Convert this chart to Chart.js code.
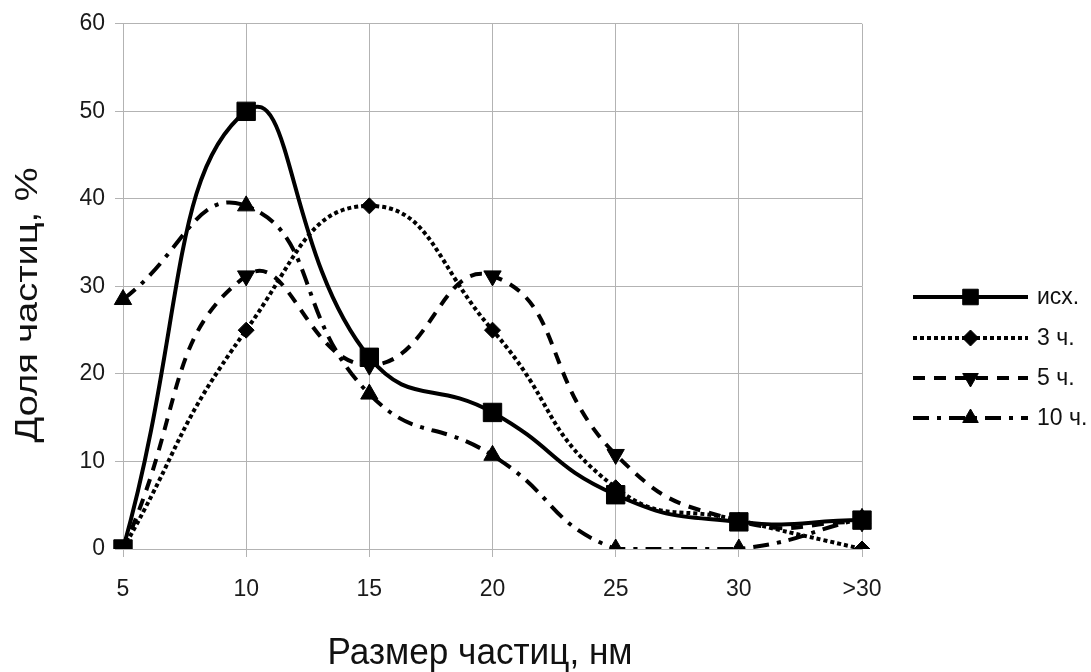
<!DOCTYPE html>
<html lang="ru">
<head>
  <meta charset="UTF-8">
  <title>Размер частиц</title>
  <script src="https://cdn.jsdelivr.net/npm/chart.js"></script>
  <style>
    html, body { margin: 0; padding: 0; background: #fff; }
    #wrap { width: 1091px; height: 672px; position: relative; }
  </style>
</head>
<body>
<div id="wrap"><canvas id="chart"></canvas></div>
<script>
  // категории и значения
  const sizes = ['5', '10', '15', '20', '25', '30', '>30'];
  const seriesNames = ['исх.', '3 ч.', '5 ч.', '10 ч.'];
  const ish = [0, 50, 21.9, 15.6, 6.2, 3.1, 3.3];
  const h3 = [0, 25, 39.2, 25, 7, 3.3, 0];
  const h5 = [0, 31.2, 21, 31.2, 10.8, 3.2, 3.1];
  const h10 = [28.5, 39.2, 17.7, 10.7, 0, 0, 3.5];
  const yTicks = [0, 10, 20, 30, 40, 50, 60];
  const xTitle = 'Размер частиц, нм';
  const yTitle = 'Доля частиц, %';

  // стили линий
  const styles = [
    { dash: [], point: 'rect', radius: 13, rotation: 0, legendRadius: 11 },
    { dash: [4, 3], point: 'rectRot', radius: 8, rotation: 0, legendRadius: 8 },
    { dash: [12, 9], point: 'triangle', radius: 10, rotation: 180, legendRadius: 9 },
    { dash: [16, 8, 4, 8], point: 'triangle', radius: 10, rotation: 0, legendRadius: 9 }
  ];

  const values = [ish, h3, h5, h10];
  const datasets = values.map((d, i) => ({
    label: seriesNames[i],
    data: d,
    borderColor: '#000',
    backgroundColor: '#000',
    borderWidth: 4,
    borderDash: styles[i].dash,
    tension: 0.5,
    pointStyle: styles[i].point,
    pointRadius: styles[i].radius,
    pointRotation: styles[i].rotation,
    pointBorderWidth: 1,
    fill: false
  }));

  // легенда справа
  const legendPlugin = {
    id: 'sideLegend',
    afterDraw(chart) {
      const ctx = chart.ctx;
      const x0 = 913, x1 = 1028;
      const rows = [297, 338, 378, 418];
      ctx.save();
      seriesNames.forEach((name, i) => {
        const y = rows[i];
        ctx.strokeStyle = '#000';
        ctx.lineWidth = 4;
        ctx.setLineDash(styles[i].dash);
        ctx.beginPath();
        ctx.moveTo(x0, y);
        ctx.lineTo(x1, y);
        ctx.stroke();
        ctx.setLineDash([]);
        ctx.fillStyle = '#000';
        ctx.lineWidth = 1;
        Chart.helpers.drawPoint(ctx, {
          pointStyle: styles[i].point,
          radius: styles[i].legendRadius,
          rotation: styles[i].rotation,
          borderWidth: 1
        }, (x0 + x1) / 2, y);
        ctx.fillStyle = '#111';
        ctx.font = '23px "Liberation Sans", sans-serif';
        ctx.textBaseline = 'middle';
        ctx.textAlign = 'left';
        ctx.fillText(name, 1037, y + 1);
      });
      ctx.restore();
    }
  };

  // подписи осей (шрифт в оригинале чуть сжат/растянут)
  const titlesPlugin = {
    id: 'axisTitles',
    afterDraw(chart) {
      const ctx = chart.ctx;
      ctx.save();
      ctx.fillStyle = '#111';
      ctx.textAlign = 'center';
      ctx.textBaseline = 'alphabetic';

      ctx.font = '37px "Liberation Sans", sans-serif';
      let w = ctx.measureText(xTitle).width;
      ctx.save();
      ctx.translate(480, 664);
      ctx.scale(305 / w, 1);
      ctx.fillText(xTitle, 0, 0);
      ctx.restore();

      ctx.font = '31px "Liberation Sans", sans-serif';
      w = ctx.measureText(yTitle).width;
      ctx.translate(37, 305);
      ctx.rotate(-Math.PI / 2);
      ctx.scale(275 / w, 1);
      ctx.fillText(yTitle, 0, 0);
      ctx.restore();
    }
  };

  const ctx = document.getElementById('chart').getContext('2d');
  new Chart(ctx, {
    type: 'line',
    data: { labels: sizes, datasets: datasets },
    plugins: [legendPlugin, titlesPlugin],
    options: {
      responsive: true,
      maintainAspectRatio: false,
      animation: false,
      layout: { padding: { left: 0, right: 229, top: 23, bottom: 0 } },
      plugins: {
        legend: { display: false },
        tooltip: { enabled: false }
      },
      scales: {
        x: {
          offset: false,
          afterFit(axis) { axis.height = 123; },
          grid: { color: '#b3b3b3', lineWidth: 1, tickLength: 8 },
          border: { color: '#b3b3b3' },
          ticks: {
            color: '#1a1a1a',
            font: { family: 'Liberation Sans', size: 23 },
            padding: 19,
            maxRotation: 0
          },
          title: { display: false, text: xTitle }
        },
        y: {
          min: 0,
          max: 60,
          afterFit(axis) { axis.width = 123; },
          afterBuildTicks(axis) {
            axis.ticks = yTicks.map(v => ({ value: v }));
          },
          grid: { color: '#b3b3b3', lineWidth: 1, tickLength: 8 },
          border: { color: '#b3b3b3' },
          ticks: {
            color: '#1a1a1a',
            font: { family: 'Liberation Sans', size: 23 },
            padding: 10
          },
          title: { display: false, text: yTitle }
        }
      }
    }
  });
</script>
</body>
</html>
